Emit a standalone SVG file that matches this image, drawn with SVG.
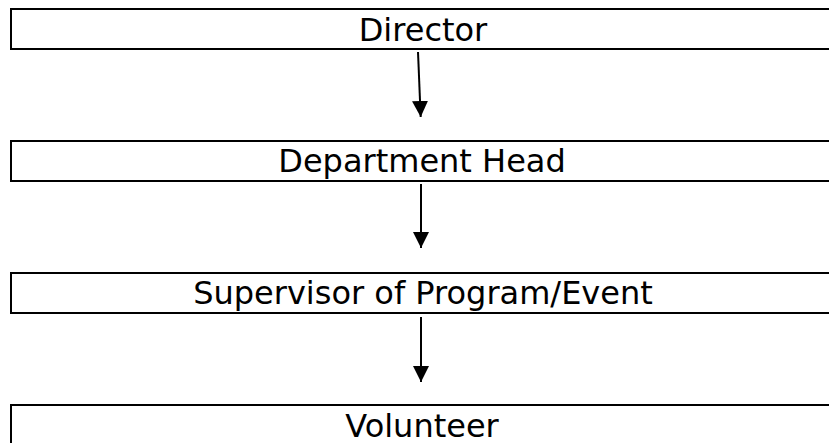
<svg xmlns="http://www.w3.org/2000/svg" width="829" height="443" viewBox="0 0 829 443">
<defs>
<style>
.box{fill:#fff;stroke:#000;stroke-width:2}
.lbl{font-family:"DejaVu Sans",Verdana,sans-serif;font-size:32px;fill:#000;text-anchor:middle}
.conn{stroke:#000;stroke-width:2;fill:none}
</style>
<marker id="ah" markerUnits="userSpaceOnUse" markerWidth="16" markerHeight="16" viewBox="0 0 16 16" refX="16" refY="8" orient="auto">
<path d="M0,0 L16,8 L0,16 Z" fill="#000"/>
</marker>
</defs>
<rect width="829" height="443" fill="#fff"/>
<g id="node-director">
<rect class="box" x="11" y="9" width="840" height="40"/>
<text class="lbl" x="423" y="41">Director</text>
</g>
<g id="node-department-head">
<rect class="box" x="11" y="141" width="840" height="40"/>
<text class="lbl" x="422" y="172">Department Head</text>
</g>
<g id="node-supervisor">
<rect class="box" x="11" y="273" width="840" height="40"/>
<text class="lbl" x="423" y="304">Supervisor of Program/Event</text>
</g>
<g id="node-volunteer">
<rect class="box" x="11" y="405" width="840" height="60"/>
<text class="lbl" x="422" y="437">Volunteer</text>
</g>
<g id="connectors">
<line class="conn" x1="418" y1="52" x2="420.7" y2="117" marker-end="url(#ah)"/>
<line class="conn" x1="421" y1="184" x2="421" y2="248" marker-end="url(#ah)"/>
<line class="conn" x1="421" y1="317" x2="421" y2="382" marker-end="url(#ah)"/>
</g>
</svg>
